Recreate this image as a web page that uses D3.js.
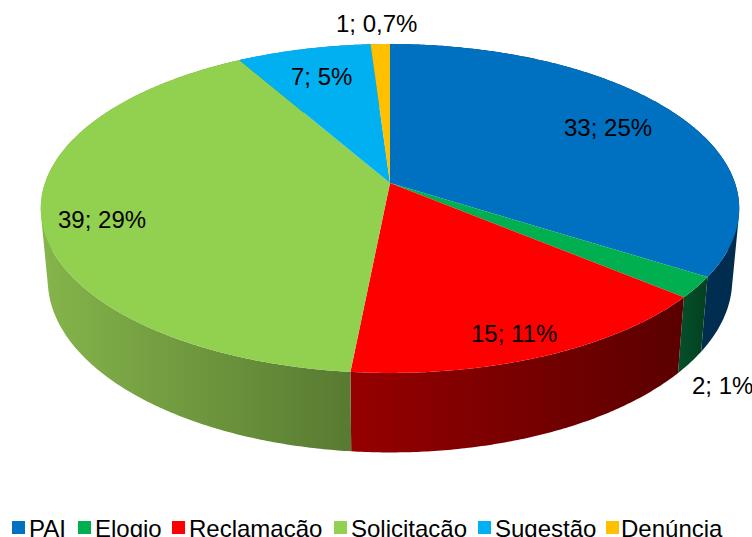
<!DOCTYPE html>
<html>
<head>
<meta charset="utf-8">
<script src="https://cdn.jsdelivr.net/npm/d3@7"></script>
<style>
html,body{margin:0;padding:0;background:#fff;overflow:hidden}
svg{display:block}
text{font-family:"Liberation Sans",Arial,sans-serif;font-size:24px;fill:#000}
</style>
</head>
<body>
<svg id="chart" width="752" height="537"></svg>
<script>
// Data
const categories = ["PAI", "Elogio", "Reclamação", "Solicitação", "Sugestão", "Denúncia"];
const values = [33, 2, 15, 39, 7, 1];
const percentLabels = ["25%", "1%", "11%", "29%", "5%", "0,7%"];

// Styles and layout (not data)
const topColors = ["#0070c0", "#00b050", "#ff0000", "#92d050", "#00b0f0", "#ffc000"];
const wallLeftColors = ["#003a66", "#04502a", "#960000", "#85b54b", "#0085b5", "#b38600"];
const wallRightColors = ["#002c4e", "#03401f", "#5a0000", "#587a31", "#006f99", "#8f6b00"];
const labelPos = [[564,136],[692,394],[471,342],[58,228],[291,85],[336,32]];
const legendMarkerX = [12, 78, 172, 334, 478, 606];
const legendTextX = [29, 95, 189, 351, 495, 621];

const svg = d3.select("#chart");
const cx = 390, cy = 183, a = 345, b = 160.5, k = 0.155;
const bottomSx = 0.98, bottomSy = 1.05, bottomDy = 70;

function project(theta, bottom) {
  const u = Math.sin(theta), v = -Math.cos(theta), d = 1 - k * v;
  const X = a * u / d, Y = b * v / d;
  return bottom ? [cx + bottomSx * X, cy + bottomSy * Y + bottomDy] : [cx + X, cy + Y];
}

const pie = d3.pie().sort(null).value(d => d);
const arcs = pie(values);
const defs = svg.append("defs");

function samples(s) {
  const n = Math.max(2, Math.ceil((s.endAngle - s.startAngle) / (Math.PI / 360)));
  return d3.range(n + 1).map(i => s.startAngle + (s.endAngle - s.startAngle) * i / n);
}

// Walls
arcs.forEach((s, i) => {
  const ts = samples(s);
  const xs = ts.flatMap(t => [project(t, false)[0], project(t, true)[0]]);
  let x1 = d3.min(xs), x2 = d3.max(xs);
  defs.append("linearGradient").attr("id", "w" + i)
    .attr("gradientUnits", "userSpaceOnUse")
    .attr("x1", x1).attr("x2", x2).attr("y1", 0).attr("y2", 0)
    .call(g => {
      g.append("stop").attr("offset", 0).attr("stop-color", wallLeftColors[i]);
      g.append("stop").attr("offset", 1).attr("stop-color", wallRightColors[i]);
    });
  let p = "";
  for (let j = 0; j < ts.length - 1; j++) {
    const q = [project(ts[j], false), project(ts[j + 1], false), project(ts[j + 1], true), project(ts[j], true)];
    // keep consistent winding so overlaps stay filled
    const area = d3.polygonArea(q);
    const o = area < 0 ? q.slice().reverse() : q;
    p += "M" + o.map(c => c.join(",")).join("L") + "Z";
  }
  svg.append("path").attr("d", p).attr("fill", `url(#w${i})`);
});

// Top faces
arcs.forEach((s, i) => {
  const pts = samples(s).map(t => project(t, false));
  svg.append("path")
    .attr("d", "M" + [[cx, cy]].concat(pts).map(c => c.join(",")).join("L") + "Z")
    .attr("fill", topColors[i]);
});

// Data labels
categories.forEach((c, i) => {
  svg.append("text").attr("x", labelPos[i][0]).attr("y", labelPos[i][1])
    .text(values[i] + "; " + percentLabels[i]);
});

// Legend
categories.forEach((c, i) => {
  svg.append("rect").attr("x", legendMarkerX[i]).attr("y", 521).attr("width", 13).attr("height", 13)
    .attr("fill", topColors[i]);
  svg.append("text").attr("x", legendTextX[i]).attr("y", 537).text(c);
});
</script>
</body>
</html>
